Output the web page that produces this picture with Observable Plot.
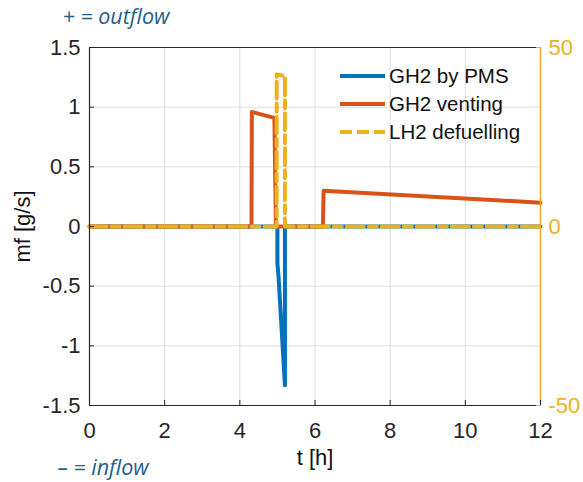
<!DOCTYPE html>
<html><head><meta charset="utf-8">
<script src="https://cdn.jsdelivr.net/npm/d3@7"></script>
<script src="https://cdn.jsdelivr.net/npm/@observablehq/plot@0.6"></script>
<style>
body{margin:0;background:#fff}
#wrap{position:relative;width:583px;height:482px;font-family:"Liberation Sans",Arial,sans-serif}
#legend{position:absolute;left:340px;top:62px}
.row{display:flex;align-items:center;height:28px;font-size:20.5px;color:#111}
.row svg{margin-right:4px}
</style>
</head><body><div id="wrap"></div>
<script>
// tick values
const xTicks = [0, 2, 4, 6, 8, 10, 12];
const yTicks = [-1.5, -1, -0.5, 0, 0.5, 1, 1.5];
const rightTicks = [-50, 0, 50];

// GH2 by PMS [g/s], left axis
const pmsT = [0, 5.0, 5.0, 5.03, 5.2, 5.2, 12];
const pmsV = [0, 0, -0.31, -0.42, -1.33, 0, 0];

// GH2 venting [g/s], left axis
const ventT = [0, 4.31, 4.32, 4.92, 4.96, 6.21, 6.23, 12];
const ventV = [0, 0, 0.96, 0.91, 0, 0, 0.30, 0.20];

// LH2 defuelling, right axis
const defT = [0, 4.98, 4.98, 5.2, 5.2, 12];
const defV = [0, 0, 42.5, 42, 0, 0];

const seriesNames = ["GH2 by PMS", "GH2 venting", "LH2 defuelling"];
const colors = ["#0072BD", "#D95319", "#EDB120"];
const dashes = [null, null, "17,5,8,5"];

const leftMax = 1.5, rightMax = 50;
const k = leftMax / rightMax;

const pms = pmsT.map((t, i) => ({t, v: pmsV[i]}));
const vent = ventT.map((t, i) => ({t, v: ventV[i]}));
const def = defT.map((t, i) => ({t, v: defV[i] * k}));

const fmt = d => String(d);
const font = "Liberation Sans, Arial, sans-serif";

const chart = Plot.plot({
  width: 583,
  height: 482,
  marginLeft: 89,
  marginRight: 43,
  marginTop: 47,
  marginBottom: 77,
  style: {fontFamily: font, background: "#fff"},
  x: {domain: [0, 12]},
  y: {domain: [-1.5, 1.5]},
  marks: [
    Plot.gridX(xTicks, {stroke: "#dedede", strokeOpacity: 1}),
    Plot.gridY(yTicks, {stroke: "#dedede", strokeOpacity: 1}),
    Plot.line(pms, {x: "t", y: "v", stroke: colors[0], strokeWidth: 4, strokeLinejoin: "round"}),
    Plot.line(vent, {x: "t", y: "v", stroke: colors[1], strokeWidth: 4, strokeLinejoin: "round"}),
    Plot.line(def, {x: "t", y: "v", stroke: colors[2], strokeWidth: 4, strokeDasharray: dashes[2]}),
    Plot.ruleY([-1.5, 1.5], {stroke: "#262626", strokeWidth: 1.2}),
    Plot.ruleX([0], {stroke: "#262626", strokeWidth: 1.2}),
    Plot.ruleX([12], {stroke: colors[2], strokeWidth: 1.5}),
    Plot.axisX(xTicks, {tickSize: -5, tickPadding: 22, fontSize: 22, tickFormat: fmt, stroke: "#262626", fill: "#262626", label: null}),
    Plot.axisY(yTicks, {anchor: "left", tickSize: -5, tickPadding: 14, fontSize: 22, tickFormat: fmt, stroke: "#262626", fill: "#262626", label: null}),
    Plot.axisY(rightTicks.map(d => d * k), {anchor: "right", tickSize: -5, tickPadding: 13, fontSize: 22, tickFormat: d => String(Math.round(d / k)), stroke: colors[2], fill: colors[2], label: null}),
    Plot.text(["mf [g/s]"], {frameAnchor: "left", textAnchor: "middle", lineAnchor: "middle", dx: -67, rotate: -90, fontSize: 22, fill: "#111"}),
    Plot.text(["t [h]"], {frameAnchor: "bottom", textAnchor: "middle", lineAnchor: "middle", dy: 52, fontSize: 22, fill: "#111"}),
    Plot.text(["+ = outflow"], {frameAnchor: "top-left", textAnchor: "start", lineAnchor: "middle", dx: -27, dy: -30, fontSize: 21.5, fontStyle: "italic", fontFamily: "Open Sans", fill: "#1f5f8b"}),
    Plot.text(["\u2013 = inflow"], {frameAnchor: "bottom-left", textAnchor: "start", lineAnchor: "middle", dx: -32, dy: 63, fontSize: 21.5, fontStyle: "italic", fontFamily: "Open Sans", fill: "#1f5f8b"})
  ]
});

const wrap = document.getElementById("wrap");
wrap.appendChild(chart);

const legend = document.createElement("div");
legend.id = "legend";
seriesNames.forEach((name, i) => {
  const row = document.createElement("div");
  row.className = "row";
  const dash = dashes[i] ? ` stroke-dasharray="12,5"` : "";
  row.innerHTML = `<svg width="45" height="6"><line x1="0" y1="3" x2="45" y2="3" stroke="${colors[i]}" stroke-width="4"${dash}/></svg><span>${name}</span>`;
  legend.appendChild(row);
});
wrap.appendChild(legend);
</script>
</body></html>
